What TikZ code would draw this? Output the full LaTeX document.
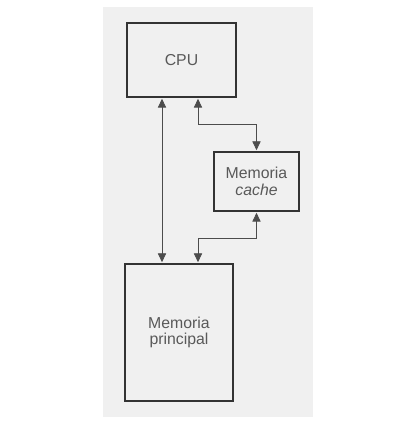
\documentclass[tikz,border=0pt]{standalone}
\usepackage{fontspec}
\setmainfont{Liberation Sans}
\usetikzlibrary{arrows.meta}
\definecolor{papier}{gray}{0.94}
\tikzset{
	kasten/.style={draw=black!80, line width=1.1pt, text=black!65, align=center,
		font=\fontsize{13.5}{14}\selectfont, inner sep=0pt},
	spitze/.tip={Triangle[length=7.5pt,width=7pt]},
	bus/.style={draw=black!70, line width=0.6pt, {spitze}-{spitze}, shorten <=1pt, shorten >=1pt}
}
\begin{document}
\begin{tikzpicture}[x=0.03cm, y=0.03cm]
		\useasboundingbox (0, 0) rectangle (409, 430);
		% Hintergrund
		\fill [papier] (103, 13) rectangle (313, 423);
		% Kaesten
		\node [kasten, minimum width=3.27cm, minimum height=2.22cm] (cpu) at (181.5, 370) {CPU};
		\node [kasten, minimum width=2.55cm, minimum height=1.77cm] (cache) at (256.5, 248.5) {Memoria\\\textit{cache}};
		\node [kasten, minimum width=3.24cm, minimum height=4.11cm] (main) at (179, 97.5) {Memoria\\principal};
		% Leitungen
		\coordinate (busA) at (162, 0);
		\coordinate (busB) at (198, 0);
		\draw [bus] (cpu.south -| busA) -- (main.north -| busA);
		\draw [bus] (cpu.south -| busB) -- ++(0, -27) -| (cache.north);
		\draw [bus] (cache.south) -- ++(0, -27) -| (main.north -| busB);
	\end{tikzpicture}
\end{document}
